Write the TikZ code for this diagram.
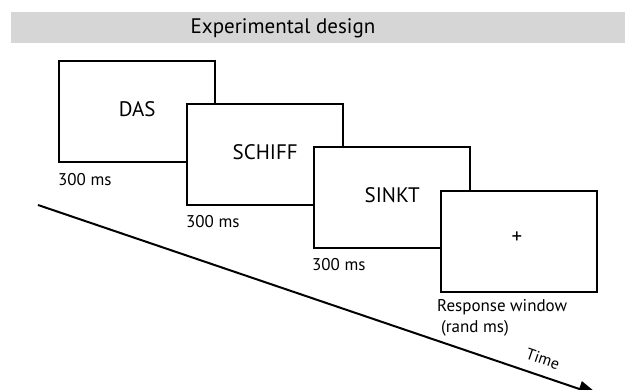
\documentclass[tikz,border=0pt]{standalone}
\usepackage{fontspec}
\setmainfont{PT Sans}
\usetikzlibrary{arrows.meta}
\begin{document}
\begin{tikzpicture}[x=1pt,y=-1pt,
  screen/.style={draw=black,line width=2.4pt,fill=white,minimum width=156pt,minimum height=101pt,inner sep=0pt},
  word/.style={font=\fontsize{21}{24}\selectfont},
  dur/.style={font=\fontsize{17}{20}\selectfont,anchor=west,inner sep=0pt}]
\useasboundingbox (0,0) rectangle (625,390);
\fill[white] (0,0) rectangle (625,390);
\node[fill=black!16,minimum width=614pt,minimum height=31pt,inner sep=0pt,anchor=north west] (banner) at (11,12) {};
\node[font=\fontsize{21}{24}\selectfont] (title) at (283,28) {Experimental design};
\coordinate (t0) at (38,205);
\coordinate (t1) at (600,396);
\draw[line width=2pt,-{Triangle[length=22pt,width=16pt]}] (t0) -- (t1);
\node[font=\fontsize{16}{18}\selectfont,rotate=-19] (time) at (543,359) {Time};
\node[screen,anchor=north west] (s1) at (58,60) {};
\node[word] at (s1.center) [yshift=3pt] {DAS};
\node[dur] (d1) at (58,180) {300 ms};
\node[screen,anchor=north west] (s2) at (186,103) {};
\node[word] at (s2.center) [yshift=3pt] {SCHIFF};
\node[dur] (d2) at (186,222) {300 ms};
\node[screen,anchor=north west] (s3) at (313,146) {};
\node[word] at (s3.center) [yshift=3pt] {SINKT};
\node[dur] (d3) at (312,265) {300 ms};
\node[screen,anchor=north west] (s4) at (440,190) {};
\node[word] at (517,238) {+};
\node[dur] (d4) at (437,307) {Response window};
\node[dur] (d5) at (441,328) {(rand ms)};
\end{tikzpicture}
\end{document}
